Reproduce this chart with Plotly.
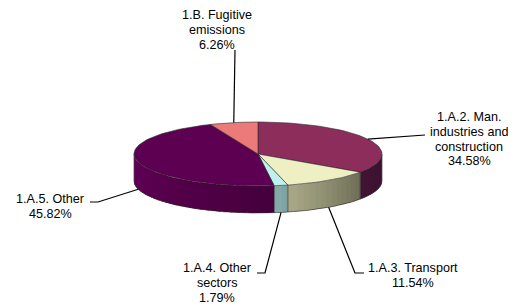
import numpy as np
import plotly.graph_objects as go

# ---- data ----
categories = ["1.A.2. Man. industries and construction", "1.A.3. Transport",
              "1.A.4. Other sectors", "1.A.5. Other", "1.B. Fugitive emissions"]
label_lines = ["1.A.2. Man.|industries and|construction", "1.A.3. Transport",
               "1.A.4. Other|sectors", "1.A.5. Other", "1.B. Fugitive|emissions"]
shares = [34.58, 11.54, 1.79, 45.82, 6.26]

# ---- style ----
top_colors = ["#8c2d5c", "#efefc4", "#bff0f0", "#5e0052", "#ec7a78"]
wall_right = ["#3a1030", "#6a6a52", "#789c9c", "#44003c", "#b05a58"]
wall_left = ["#421434", "#a8a888", "#88acac", "#620056", "#c06a68"]
EDGE = "#2a2a2a"
CX, CY, RX, RY, DEPTH = 258, 154, 124, 32, 27
OFF = 8          # page body margin
LINE_H = 14.8
FONT = dict(family="Liberation Sans, Arial", size=12.6, color="black")

# label placement: (elbow x, elbow y, end x, end y, text centre x, first line y)
label_pos = [
    (425, 135, 425, 135, 469, 117),
    (355, 273, 364, 273, 413, 268),
    (265, 273, 257, 273, 217, 268),
    (98, 202, 90, 202, 50, 199),
    (235, 50, 235, 50, 217, 15),
]

total = sum(shares)
fracs = [s / total for s in shares]
cum = np.concatenate([[0], np.cumsum(fracs)]) * 360.0


def pt(theta_deg, drop=0.0):
    t = np.radians(theta_deg)
    return CX + RX * np.sin(t), CY - RY * np.cos(t) + drop


def hex2rgb(h):
    h = h.lstrip("#")
    return [int(h[i:i + 2], 16) for i in (0, 2, 4)]


def mix(c1, c2, f):
    a, b = hex2rgb(c1), hex2rgb(c2)
    return "rgb(%d,%d,%d)" % tuple(round(a[i] + (b[i] - a[i]) * f) for i in range(3))


fig = go.Figure()

# side walls (front half: 90..270 deg), gradient built from overlapping strips
for i in range(len(shares)):
    a, b = max(cum[i], 90), min(cum[i + 1], 270)
    if b <= a:
        continue
    n = max(1, int(np.ceil((b - a) / 3)))
    edges = np.linspace(a, b, n + 1)
    step = (b - a) / n
    for k in range(n):
        hi = edges[k + 1]
        lo = max(a, edges[k] - 0.6 * step) if k > 0 else a
        ts = np.linspace(lo, hi, 8)
        xt, yt = pt(ts)
        xb, yb = pt(ts[::-1], DEPTH)
        f = ((edges[k] + edges[k + 1]) / 2 - a) / (b - a)
        col = mix(wall_right[i], wall_left[i], f)
        fig.add_trace(go.Scatter(x=list(xt) + list(xb), y=list(yt) + list(yb),
                                 fill="toself", fillcolor=col, mode="none",
                                 hoverinfo="skip"))

# top faces
for i in range(len(shares)):
    ts = np.linspace(cum[i], cum[i + 1], max(4, int((cum[i + 1] - cum[i]) / 2) + 2))
    xs, ys = pt(ts)
    fig.add_trace(go.Scatter(x=[CX] + list(xs) + [CX], y=[CY] + list(ys) + [CY],
                             fill="toself", fillcolor=top_colors[i], mode="lines",
                             line=dict(color=EDGE, width=0.6), name=categories[i],
                             hoverinfo="name"))

# wall outlines
ts = np.linspace(90, 270, 181)
xb, yb = pt(ts, DEPTH)
fig.add_trace(go.Scatter(x=xb, y=yb, mode="lines", line=dict(color=EDGE, width=0.6),
                         hoverinfo="skip"))
for th in [90, 270] + [c for c in cum if 90 < c < 270]:
    x0, y0 = pt(th)
    x1, y1 = pt(th, DEPTH)
    fig.add_trace(go.Scatter(x=[x0, x1], y=[y0, y1], mode="lines",
                             line=dict(color=EDGE, width=0.6), hoverinfo="skip"))

# leader lines and labels
for i in range(len(shares)):
    mid = (cum[i] + cum[i + 1]) / 2
    drop = DEPTH if 90 < mid < 270 else 0
    ax, ay = pt(mid, drop)
    ex, ey, fx, fy, tx, ty = label_pos[i]
    fig.add_trace(go.Scatter(x=[ax, ex, fx], y=[ay, ey, fy], mode="lines",
                             line=dict(color="black", width=1.2), hoverinfo="skip"))
    lines = label_lines[i].split("|") + [f"{shares[i]:.2f}%"]
    for j, ln in enumerate(lines):
        fig.add_annotation(x=tx, y=ty + j * LINE_H, xref="x", yref="y", showarrow=False,
                           text=ln, xanchor="center", yanchor="middle", font=FONT)

fig.update_layout(width=517 - OFF, height=306 - OFF, margin=dict(l=0, r=0, t=0, b=0),
                  paper_bgcolor="white", plot_bgcolor="white", showlegend=False,
                  xaxis=dict(range=[OFF, 517], visible=False, fixedrange=True),
                  yaxis=dict(range=[306, OFF], visible=False, fixedrange=True))
fig.write_html("out.html")
